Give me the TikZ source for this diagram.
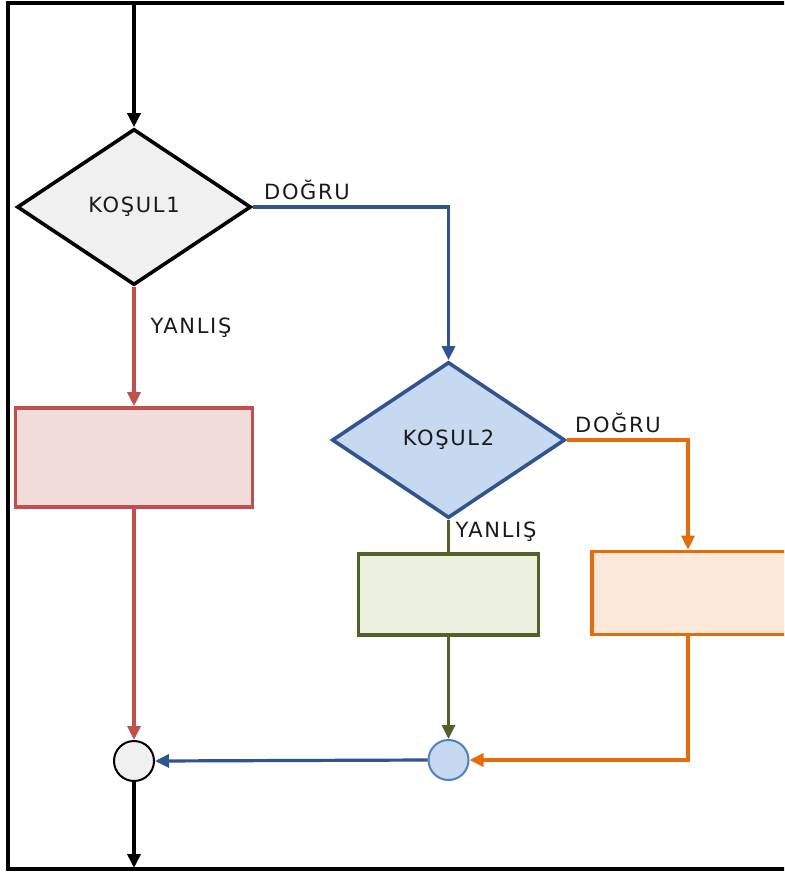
\documentclass[tikz,border=0pt]{standalone}
\usepackage{fontspec}
\setmainfont{DejaVu Sans}[LetterSpace=8]
\usetikzlibrary{shapes.geometric,arrows.meta}
\definecolor{dgray}{HTML}{F0F0F0}
\definecolor{bfill}{HTML}{C6D9F1}
\definecolor{bline}{HTML}{2F5490}
\definecolor{cline}{HTML}{4F81BD}
\definecolor{rfill}{HTML}{F2DCDB}
\definecolor{rline}{HTML}{C0504D}
\definecolor{gfill}{HTML}{EBF1DE}
\definecolor{gline}{HTML}{4F6228}
\definecolor{ofill}{HTML}{FDE9D9}
\definecolor{oline}{HTML}{E46C0A}
\definecolor{txt}{HTML}{1A1A1A}
\tikzset{
  tip/.style={-{Triangle[length=14pt,width=13pt]}},
  dec/.style={diamond,shape aspect=1.5,minimum width=234pt,minimum height=156pt,inner sep=0pt,line width=3.6pt,font=\fontsize{21}{24}\selectfont,text=txt},
  boxx/.style={rectangle,inner sep=0pt,line width=3.6pt},
  joint/.style={circle,inner sep=0pt,minimum size=40pt,line width=2pt},
  lbl/.style={font=\fontsize{21}{24}\selectfont,text=txt,inner sep=0pt},
  conn/.style={line width=3.2pt}
}
\begin{document}
\begin{tikzpicture}[x=1pt,y=-1pt]
\useasboundingbox (0,0) rectangle (784,872);
\clip (0,0) rectangle (784,872);
\fill[white] (0,0) rectangle (784,872);
\draw[line width=3.6pt] (790,3) -- (8,3) -- (8,869) -- (790,869);

\node[dec,draw=black,fill=dgray] (d1) at (134,207) {KOŞUL1};
\node[dec,draw=bline,fill=bfill,minimum width=233pt] (d2) at (448.5,440) {KOŞUL2};
\node[boxx,draw=rline,fill=rfill,minimum width=237pt,minimum height=99pt] (r1) at (134,457.5) {};
\node[boxx,draw=gline,fill=gfill,minimum width=180pt,minimum height=81pt] (g1) at (448.5,594.5) {};
\node[boxx,draw=oline,fill=ofill,minimum width=200pt,minimum height=83pt] (o1) at (692,593) {};
\node[joint,draw=black,fill=dgray] (c1) at (134,761) {};
\node[joint,draw=cline,fill=bfill] (c2) at (448.5,760) {};

\coordinate (start) at (134,5);
\coordinate (finish) at (134,868);

\draw[conn,line width=3.6pt,tip] (start) -- (d1.north);
\draw[conn,draw=bline,tip] (d1.east) -| (d2.north);
\draw[conn,draw=rline,tip] (d1.south) -- (r1.north);
\draw[conn,draw=rline,tip] (r1.south) -- (c1.north);
\draw[conn,draw=oline,tip] (d2.east) -| ([xshift=-4pt]o1.north);
\draw[conn,draw=gline] (d2.south) -- (g1.north);
\draw[conn,draw=gline,tip] (g1.south) -- (c2.north);
\draw[conn,draw=oline,tip] ([xshift=-4pt]o1.south) |- (c2.east);
\draw[conn,draw=bline,tip] (c2.west) -- (c1.east);
\draw[conn,line width=3.6pt,tip] (c1.south) -- (finish);

\node[lbl] (l1) at (307,190) {DOĞRU};
\node[lbl] (l2) at (191,328) {YANLIŞ};
\node[lbl] (l3) at (618,423) {DOĞRU};
\node[lbl] (l4) at (496,532) {YANLIŞ};
\end{tikzpicture}
\end{document}
